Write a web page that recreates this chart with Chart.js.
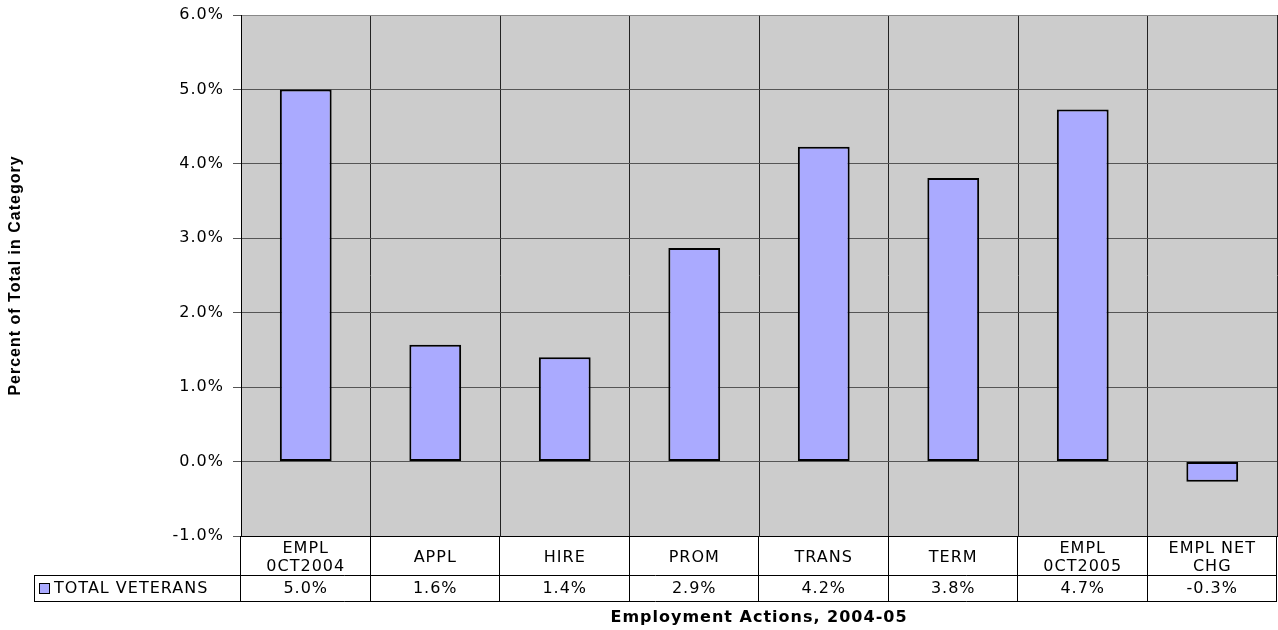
<!DOCTYPE html>
<html>
<head>
<meta charset="utf-8">
<script src="https://cdn.jsdelivr.net/npm/chart.js@4/dist/chart.umd.min.js"></script>
<style>
  html, body { margin: 0; padding: 0; background: #fff; }
  canvas { display: block; }
</style>
</head>
<body>
<canvas id="chart" width="1278" height="630"></canvas>
<script>
const categories = [["EMPL", "0CT2004"], "APPL", "HIRE", "PROM", "TRANS", "TERM", ["EMPL", "0CT2005"], ["EMPL NET", "CHG"]];
const seriesName = "TOTAL VETERANS";
const veterans = [5.0, 1.57, 1.4, 2.87, 4.23, 3.81, 4.73, -0.27];
const yTicks = [-1, 0, 1, 2, 3, 4, 5, 6];

const BAR = "#aaaaff";
const FONT = "DejaVu Sans";
const pct = (v) => v.toFixed(1) + "%";

// grey plot background (+ slightly wide lettering like the original)
const plotBg = {
  id: "plotBg",
  beforeDraw(chart) {
    const { ctx, chartArea: a } = chart;
    ctx.letterSpacing = "1px";
    ctx.save();
    ctx.fillStyle = "#cccccc";
    ctx.fillRect(a.left, a.top, a.right - a.left, a.bottom - a.top);
    ctx.restore();
  }
};

// data table under the plot: category names, legend key, values
const dataTable = {
  id: "dataTable",
  afterDraw(chart) {
    const { ctx, chartArea: a } = chart;
    const x = chart.scales.x;
    const n = categories.length;
    const w = (x.right - x.left) / n;
    const row1 = a.bottom + 39;
    const row2 = a.bottom + 65;
    const keyLeft = 34;

    ctx.save();
    ctx.strokeStyle = "#000";
    ctx.lineWidth = 1;
    ctx.beginPath();
    ctx.moveTo(keyLeft, row1 + 0.5); ctx.lineTo(x.right, row1 + 0.5);
    ctx.moveTo(keyLeft, row2 + 0.5); ctx.lineTo(x.right, row2 + 0.5);
    ctx.moveTo(keyLeft + 0.5, row1); ctx.lineTo(keyLeft + 0.5, row2);
    for (let i = 0; i <= n; i++) {
      const bx = Math.round(x.left + i * w) - 0.5;
      ctx.moveTo(bx, a.bottom); ctx.lineTo(bx, row2);
    }
    ctx.stroke();

    ctx.fillStyle = "#000";
    ctx.font = `16px "${FONT}"`;
    ctx.letterSpacing = "1px";
    ctx.textAlign = "center";
    ctx.textBaseline = "middle";
    categories.forEach((c, i) => {
      const cx = x.getPixelForValue(i);
      const lines = Array.isArray(c) ? c : [c];
      const mid = (a.bottom + row1) / 2 + 2;
      lines.forEach((t, j) => {
        ctx.fillText(t, cx, mid + (j - (lines.length - 1) / 2) * 18);
      });
      ctx.fillText(pct(veterans[i]), cx, (row1 + row2) / 2 + 1);
    });

    // legend key
    const ky = (row1 + row2) / 2;
    ctx.fillStyle = BAR;
    ctx.fillRect(keyLeft + 5, ky - 5, 10, 10);
    ctx.strokeRect(keyLeft + 5.5, ky - 4.5, 10, 10);
    ctx.fillStyle = "#000";
    ctx.textAlign = "left";
    ctx.fillText(seriesName, keyLeft + 20, ky + 1);
    ctx.restore();
  }
};

new Chart(document.getElementById("chart"), {
  type: "bar",
  data: {
    labels: categories,
    datasets: [{
      label: seriesName,
      data: veterans,
      backgroundColor: BAR,
      borderColor: "#000",
      borderWidth: 2,
      borderSkipped: false,
      categoryPercentage: 1,
      barPercentage: 0.4
    }]
  },
  options: {
    responsive: false,
    animation: false,
    devicePixelRatio: 1,
    layout: { padding: { top: 15, right: 1, left: 0, bottom: 0 } },
    plugins: { legend: { display: false }, tooltip: { enabled: false } },
    scales: {
      x: {
        offset: true,
        grid: { offset: true, color: "#222", drawTicks: false },
        border: { color: "#000" },
        ticks: { display: false },
        title: {
          display: true,
          text: "Employment Actions, 2004-05",
          color: "#000",
          font: { family: FONT, size: 16, weight: "bold" },
          padding: { top: 0, bottom: 3 }
        },
        afterFit: (s) => { s.height = 94; }
      },
      y: {
        min: -1,
        max: 6,
        afterBuildTicks: (s) => { s.ticks = yTicks.map((v) => ({ value: v })); },
        ticks: {
          color: "#000",
          font: { family: FONT, size: 16 },
          padding: 9,
          callback: (v) => pct(v)
        },
        grid: {
          color: (c) => (c.tick && c.tick.value === 6 ? "#888" : "#555"),
          tickColor: "#555",
          tickLength: 8
        },
        border: { color: "#000" },
        title: {
          display: true,
          text: "Percent of Total in Category",
          color: "#000",
          font: { family: "Liberation Sans", size: 16, weight: "bold" },
          padding: { top: 6, bottom: 0 }
        },
        afterFit: (s) => {
          s.width = 241;
          s.paddingTop = 0;
          s.paddingBottom = 0;
        }
      }
    }
  },
  plugins: [plotBg, dataTable]
});
</script>
</body>
</html>
